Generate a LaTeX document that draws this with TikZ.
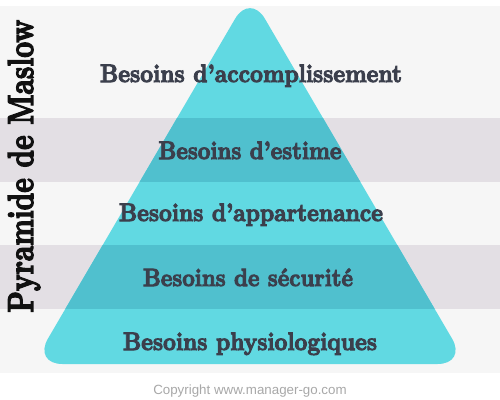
\documentclass[tikz,border=0pt]{standalone}
\usepackage{fontspec}
\usepackage{graphicx}
\newfontfamily\copyfont{Liberation Sans}
\newfontfamily\heavyfont{lmroman10-bold.otf}[FakeBold=4]
\definecolor{bandlight}{HTML}{F6F6F6}
\definecolor{banddark}{HTML}{E3DFE4}
\definecolor{cyanA}{HTML}{61D9E2}
\definecolor{cyanB}{HTML}{50C0CE}
\definecolor{labelc}{HTML}{3B3F4C}
\definecolor{titlec}{HTML}{111111}
\definecolor{copyc}{HTML}{A8A8A8}
\begin{document}
\begin{tikzpicture}[x=0.75pt,y=-0.75pt,
  lbl/.style={anchor=base,inner sep=0pt,text=labelc,font=\heavyfont},
  tri/.style={rounded corners=22pt}]
\useasboundingbox (0,0) rectangle (500,400);
\fill[white] (0,0) rectangle (500,400);
% bands
\fill[bandlight] (0,6) rectangle (500,373);
\fill[banddark] (0,118) rectangle (500,182);
\fill[banddark] (0,245) rectangle (500,309);
% pyramid
\fill[cyanA,tri] (250,364) -- (33.1,364) -- (250,-6.7) -- (466.9,364) -- cycle;
\begin{scope}
  \clip[tri] (250,364) -- (33.1,364) -- (250,-6.7) -- (466.9,364) -- cycle;
  \fill[cyanB] (0,118) rectangle (500,182);
  \fill[cyanB] (0,245) rectangle (500,309);
\end{scope}
% labels
\node[lbl] (l1) at (251,82) {\resizebox{226.5pt}{13.1pt}{Besoins d’accomplissement}};
\node[lbl] (l2) at (250,159) {\resizebox{137.25pt}{13.1pt}{Besoins d’estime}};
\node[lbl] (l3) at (251,221) {\resizebox{198pt}{13.1pt}{Besoins d’appartenance}};
\node[lbl] (l4) at (248,286) {\resizebox{157.5pt}{13.1pt}{Besoins de sécurité}};
\node[lbl] (l5) at (250,350) {\resizebox{190.5pt}{13.1pt}{Besoins physiologiques}};
% title
\node[anchor=base west,rotate=90,inner sep=0pt,text=titlec,font=\heavyfont] (title) at (33,313) {\resizebox{219.75pt}{18.75pt}{Pyramide de Maslow}};
% copyright
\node[anchor=base,inner sep=0pt,text=copyc,font=\copyfont\fontsize{10}{12}\selectfont] (copy) at (250,394) {Copyright www.manager-go.com};
\end{tikzpicture}
\end{document}
